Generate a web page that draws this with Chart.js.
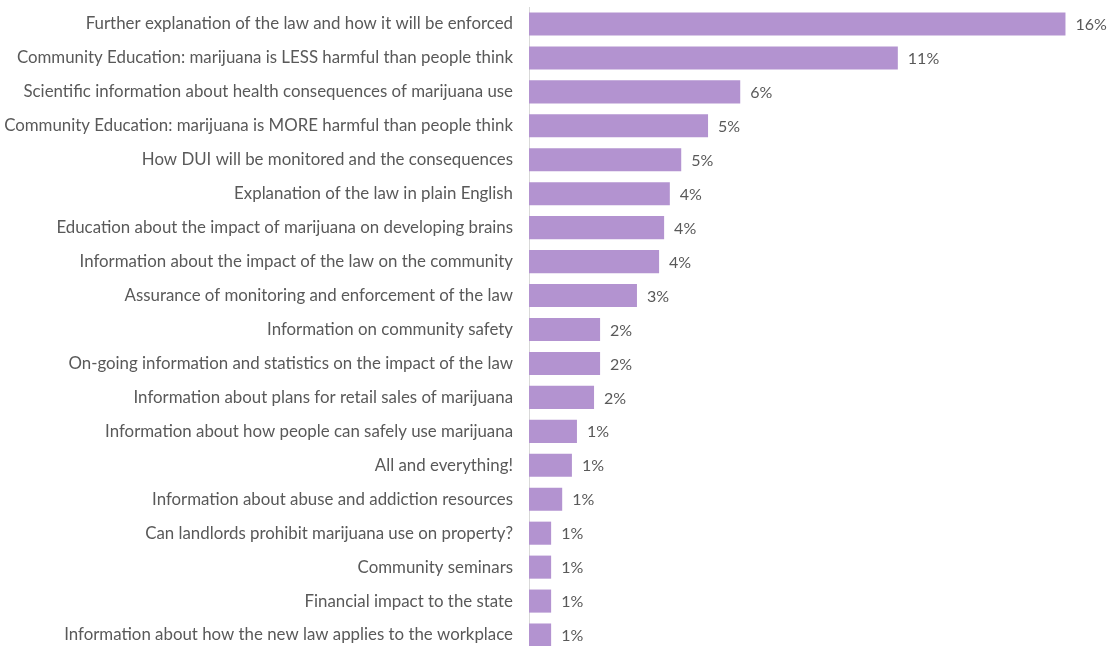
<!DOCTYPE html>
<html lang="en">
<head>
<meta charset="UTF-8">
<title>Requested information</title>
<script src="https://cdn.jsdelivr.net/npm/chart.js"></script>
<style>
  html, body { margin: 0; padding: 0; background: #fff; overflow: hidden; }
  .wrap { position: relative; width: 1109px; height: 652px; }
</style>
</head>
<body>
<div class="wrap"><canvas id="chart"></canvas></div>
<script>
const categories = [
  'Further explanation of the law and how it will be enforced',
  'Community Education: marijuana is LESS harmful than people think',
  'Scientific information about health consequences of marijuana use',
  'Community Education: marijuana is MORE harmful than people think',
  'How DUI will be monitored and the consequences',
  'Explanation of the law in plain English',
  'Education about the impact of marijuana on developing brains',
  'Information about the impact of the law on the community',
  'Assurance of monitoring and enforcement of the law',
  'Information on community safety',
  'On-going information and statistics on the impact of the law',
  'Information about plans for retail sales of marijuana',
  'Information about how people can safely use marijuana',
  'All and everything!',
  'Information about abuse and addiction resources',
  'Can landlords prohibit marijuana use on property?',
  'Community seminars',
  'Financial impact to the state',
  'Information about how the new law applies to the workplace'
];
// share of responses, percent
const shares = [16.0, 11.0, 6.3, 5.34, 4.54, 4.2, 4.03, 3.88, 3.22, 2.12, 2.12, 1.94, 1.43, 1.28, 0.99, 0.66, 0.66, 0.66, 0.66];
const shareLabels = ['16%', '11%', '6%', '5%', '5%', '4%', '4%', '4%', '3%', '2%', '2%', '2%', '1%', '1%', '1%', '1%', '1%', '1%', '1%'];

const FONT = 'Lato, "Open Sans", sans-serif';

// value labels at the end of each bar
const barLabels = {
  id: 'barLabels',
  afterDatasetsDraw(chart) {
    const ctx = chart.ctx;
    const meta = chart.getDatasetMeta(0);
    ctx.save();
    ctx.font = '16px ' + FONT;
    ctx.fillStyle = '#595959';
    ctx.textAlign = 'left';
    ctx.textBaseline = 'middle';
    meta.data.forEach((bar, i) => {
      ctx.fillText(shareLabels[i], bar.x + 10, bar.y + 1);
    });
    ctx.restore();
  }
};

new Chart(document.getElementById('chart'), {
  type: 'bar',
  data: {
    labels: categories,
    datasets: [{
      data: shares,
      backgroundColor: '#b393d0',
      borderWidth: 0,
      barPercentage: 0.68,
      categoryPercentage: 1
    }]
  },
  options: {
    indexAxis: 'y',
    responsive: true,
    maintainAspectRatio: false,
    animation: false,
    layout: { padding: { top: 7, right: 10, bottom: 0, left: 0 } },
    plugins: { legend: { display: false }, tooltip: { enabled: false } },
    scales: {
      x: {
        min: 0,
        max: 17,
        display: false
      },
      y: {
        afterFit(scale) {
          scale.width = 529;
          scale.paddingTop = 0;
          scale.paddingBottom = 0;
        },
        grid: { display: false, drawTicks: false },
        border: { display: true, color: '#d9d9d9', width: 1 },
        ticks: {
          padding: 16,
          color: '#595959',
          font: { family: FONT, size: 16.85 },
          autoSkip: false
        }
      }
    }
  },
  plugins: [barLabels]
});
</script>
</body>
</html>
